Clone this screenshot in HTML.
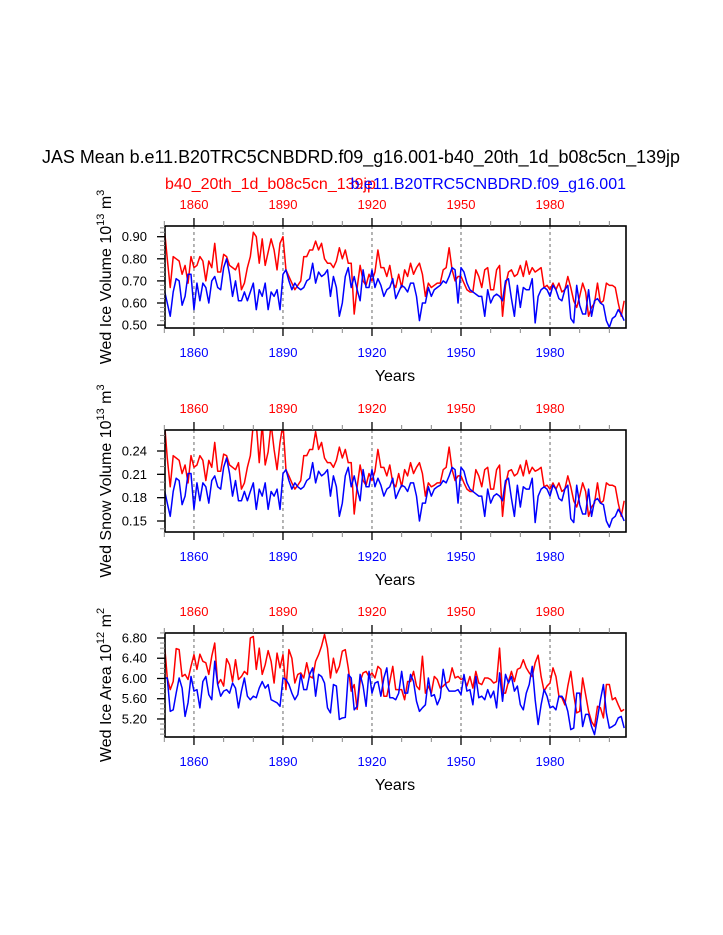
<!DOCTYPE html>
<html><head><meta charset="utf-8"><style>
html,body{margin:0;padding:0;background:#fff;}
svg{display:block;font-family:"Liberation Sans",Arial,sans-serif;}
</style></head><body>
<svg id="chart" width="723" height="935" viewBox="0 0 723 935" xmlns="http://www.w3.org/2000/svg">
<text x="361" y="163" font-size="18" text-anchor="middle" fill="#000" textLength="638" lengthAdjust="spacingAndGlyphs">JAS Mean b.e11.B20TRC5CNBDRD.f09_g16.001-b40_20th_1d_b08c5cn_139jp</text>
<text x="165" y="189" font-size="16" fill="#ff0000">b40_20th_1d_b08c5cn_139jp</text>
<text x="626" y="189" font-size="16" text-anchor="end" fill="#0000ff">b.e11.B20TRC5CNBDRD.f09_g16.001</text>
</svg>
<script>
const years = [];
for (let y = 1850; y <= 2005; y++) years.push(y);
const xTickYears = [1860, 1890, 1920, 1950, 1980];

const iceVolRed = [0.94,0.80,0.67,0.81,0.80,0.79,0.73,0.77,0.69,0.81,
0.76,0.77,0.81,0.79,0.70,0.79,0.76,0.87,0.74,0.74,
0.82,0.81,0.77,0.76,0.75,0.78,0.66,0.69,0.76,0.81,
0.92,0.90,0.78,0.89,0.77,0.83,0.89,0.84,0.75,0.87,
0.90,0.75,0.72,0.69,0.66,0.68,0.70,0.81,0.81,0.84,
0.84,0.88,0.84,0.87,0.80,0.78,0.78,0.76,0.79,0.85,
0.80,0.84,0.78,0.78,0.55,0.67,0.77,0.70,0.68,0.73,
0.70,0.74,0.84,0.76,0.76,0.72,
0.77,0.69,0.67,0.73,0.67,0.75,0.72,0.78,0.73,0.76,
0.78,0.73,0.63,0.69,0.67,0.68,0.69,0.69,0.75,0.76,
0.85,0.75,0.70,0.72,0.72,0.69,0.66,0.65,0.65,0.75,
0.72,0.67,0.75,0.76,0.66,0.66,0.75,0.77,0.54,0.68,
0.74,0.75,0.72,0.73,0.77,0.72,0.79,0.73,0.76,0.74,
0.75,0.76,0.67,0.68,0.66,0.69,0.66,0.69,0.65,0.66,
0.72,0.67,0.61,0.58,0.63,0.69,0.65,0.54,0.58,0.60,
0.69,0.60,0.61,0.69,0.68,0.68,0.67,0.60,0.54,0.61];
const iceVolBlue = [0.66,0.60,0.54,0.65,0.71,0.70,0.59,0.63,0.73,0.73,
0.57,0.69,0.61,0.69,0.67,0.60,0.70,0.72,0.67,0.66,
0.76,0.80,0.73,0.63,0.70,0.61,0.61,0.65,0.61,0.65,
0.69,0.57,0.66,0.63,0.69,0.57,0.65,0.63,0.66,0.57,
0.73,0.75,0.70,0.66,0.69,0.67,0.66,0.67,0.70,0.71,
0.78,0.69,0.74,0.72,0.73,0.75,0.63,0.72,0.67,0.54,
0.60,0.72,0.76,0.67,0.72,0.66,0.61,0.75,0.67,0.67,
0.75,0.67,0.71,0.68,0.63,0.66,
0.67,0.71,0.62,0.65,0.68,0.67,0.65,0.69,0.69,0.63,
0.52,0.60,0.60,0.67,0.63,0.66,0.67,0.68,0.70,0.69,
0.72,0.76,0.75,0.60,0.76,0.74,0.69,0.66,0.65,0.64,
0.63,0.63,0.54,0.66,0.60,0.63,0.64,0.63,0.61,0.70,
0.71,0.62,0.54,0.68,0.58,0.67,0.66,0.66,0.71,0.51,
0.63,0.66,0.67,0.66,0.63,0.68,0.66,0.62,0.61,0.66,
0.68,0.53,0.51,0.68,0.59,0.55,0.55,0.66,0.54,0.61,
0.62,0.60,0.59,0.52,0.49,0.53,0.54,0.57,0.55,0.52];

const snowRed = [0.28,0.231,0.194,0.234,0.231,0.228,0.211,0.222,0.199,0.234,
0.219,0.222,0.234,0.228,0.202,0.228,0.219,0.251,0.214,0.214,
0.236,0.234,0.222,0.219,0.216,0.225,0.191,0.199,0.219,0.234,
0.275,0.275,0.225,0.275,0.222,0.239,0.275,0.242,0.216,0.251,
0.275,0.216,0.208,0.199,0.191,0.196,0.202,0.234,0.234,0.242,
0.242,0.265,0.242,0.251,0.231,0.225,0.225,0.219,0.228,0.245,
0.231,0.242,0.225,0.225,0.159,0.194,0.222,0.202,0.196,0.211,
0.202,0.214,0.242,0.219,0.219,0.208,
0.222,0.199,0.194,0.211,0.194,0.216,0.208,0.225,0.211,0.219,
0.225,0.211,0.182,0.199,0.194,0.196,0.199,0.199,0.216,0.219,
0.245,0.216,0.202,0.208,0.208,0.199,0.191,0.188,0.188,0.216,
0.208,0.194,0.216,0.219,0.191,0.191,0.216,0.222,0.156,0.196,
0.214,0.216,0.208,0.211,0.222,0.208,0.228,0.211,0.219,0.214,
0.216,0.219,0.194,0.196,0.191,0.199,0.191,0.199,0.188,0.191,
0.208,0.194,0.176,0.168,0.182,0.199,0.188,0.156,0.168,0.173,
0.199,0.173,0.176,0.199,0.196,0.196,0.194,0.173,0.156,0.176];
const snowBlue = [0.191,0.173,0.156,0.188,0.205,0.202,0.171,0.182,0.211,0.211,
0.165,0.199,0.176,0.199,0.194,0.173,0.202,0.208,0.194,0.191,
0.219,0.231,0.211,0.182,0.202,0.176,0.176,0.188,0.176,0.188,
0.199,0.165,0.191,0.182,0.199,0.165,0.188,0.182,0.191,0.165,
0.211,0.216,0.202,0.191,0.199,0.194,0.191,0.194,0.202,0.205,
0.225,0.199,0.214,0.208,0.211,0.216,0.182,0.208,0.194,0.156,
0.173,0.208,0.219,0.194,0.208,0.191,0.176,0.216,0.194,0.194,
0.216,0.194,0.205,0.196,0.182,0.191,
0.194,0.205,0.179,0.188,0.196,0.194,0.188,0.199,0.199,0.182,
0.150,0.173,0.173,0.194,0.182,0.191,0.194,0.196,0.202,0.199,
0.208,0.219,0.216,0.173,0.219,0.214,0.199,0.191,0.188,0.185,
0.182,0.182,0.156,0.191,0.173,0.182,0.185,0.182,0.176,0.202,
0.205,0.179,0.156,0.196,0.168,0.194,0.191,0.191,0.205,0.148,
0.182,0.191,0.194,0.191,0.182,0.196,0.191,0.179,0.176,0.191,
0.196,0.153,0.148,0.196,0.171,0.159,0.159,0.191,0.156,0.176,
0.179,0.173,0.171,0.150,0.142,0.153,0.156,0.165,0.159,0.150];

const areaRed = [6.73,6.01,5.78,5.94,6.59,6.57,6.04,6.08,5.98,6.24,
6.47,6.18,6.48,6.34,6.31,6.08,6.44,6.70,5.88,5.98,
5.85,6.39,6.27,5.94,6.37,5.98,6.04,6.14,6.08,6.80,
6.83,6.18,6.60,6.08,6.27,6.55,6.34,5.91,6.50,6.21,
6.47,5.78,6.57,6.40,5.91,6.08,6.11,6.01,6.31,6.04,
6.01,6.34,6.47,6.64,6.87,6.60,6.01,6.40,6.11,6.24,
6.54,6.57,6.21,5.75,5.88,5.39,5.94,6.11,6.14,6.04,
6.11,6.01,6.24,6.18,5.65,5.65,5.94,
6.24,5.78,5.78,5.78,5.58,5.94,5.94,6.14,5.85,5.78,
6.44,5.71,5.85,5.71,6.04,5.98,5.81,5.85,5.91,5.94,
6.21,6.01,6.04,5.98,6.01,5.85,6.04,5.81,6.14,5.91,
5.88,6.01,6.01,5.98,5.91,5.94,6.60,5.71,5.71,5.94,
6.14,5.94,6.18,6.21,6.37,6.21,6.11,6.04,6.31,6.46,
6.04,5.75,5.85,5.91,6.21,6.04,5.65,5.62,5.48,5.85,
6.14,5.68,5.32,5.35,6.01,5.68,5.35,5.15,5.05,5.45,
5.42,5.22,5.88,5.88,5.58,5.62,5.48,5.35,5.39];
const areaBlue = [6.01,6.01,5.35,5.38,5.71,6.01,5.81,5.25,5.52,6.04,
5.75,5.78,5.42,5.94,6.04,5.68,5.58,6.34,5.88,5.65,
5.75,5.78,5.71,5.91,5.81,5.42,5.75,6.01,5.65,5.58,
5.65,5.62,5.81,5.94,5.81,5.88,5.58,5.55,5.52,5.45,
6.01,5.98,5.88,5.71,5.58,5.68,6.08,5.78,5.78,6.08,
6.21,5.65,6.08,6.04,5.91,5.42,5.32,5.88,5.85,5.19,
5.22,5.23,6.08,6.01,5.38,5.45,6.08,5.85,5.45,6.14,
5.71,5.91,5.94,5.65,6.01,6.21,5.62,
5.62,5.58,5.71,6.14,5.71,5.71,6.08,5.94,5.55,5.35,
5.42,5.48,6.01,5.65,5.68,5.48,5.62,6.18,5.85,5.75,
5.75,5.75,5.78,5.68,6.08,5.75,5.78,5.48,6.04,5.62,
5.65,5.58,5.78,5.62,5.75,5.42,6.11,5.55,6.08,5.91,
6.04,5.75,5.85,5.48,5.38,5.71,5.88,6.24,5.58,5.09,
5.48,5.78,5.65,5.42,5.45,5.38,5.65,5.65,5.55,5.35,
4.99,5.02,5.71,5.71,5.05,5.29,5.29,5.05,4.89,5.22,
5.58,5.88,5.32,5.02,5.05,5.09,5.22,5.25,5.02];

const iceVolTicks = ["0.50","0.60","0.70","0.80","0.90"];
const snowTicks = ["0.15","0.18","0.21","0.24"];
const areaTicks = ["5.20","5.60","6.00","6.40","6.80"];

const NS = "http://www.w3.org/2000/svg";
const svg = document.getElementById("chart");
const X0 = 165, X1 = 626;
function xScale(yr){ return 164.3 + (yr - 1850) * 2.967; }

function mk(tag, attrs, parent){
  const e = document.createElementNS(NS, tag);
  for (const k in attrs) e.setAttribute(k, attrs[k]);
  (parent || svg).appendChild(e);
  return e;
}

function panel(cfg){
  const g = mk("g", {});
  
  
  const yS = v => cfg.yRef + (cfg.vRef - v) * cfg.pxPer;
  const clipId = cfg.name + "-clip";
  const cp = mk("clipPath", {id: clipId}, g);
  mk("rect", {x: X0, y: cfg.top, width: X1 - X0, height: cfg.bottom - cfg.top}, cp);
  xTickYears.forEach(yr => {
    const l = mk("line", {x1: xScale(yr), x2: xScale(yr), y1: cfg.top, y2: cfg.bottom, stroke: "#444", "stroke-width": 0.8, "stroke-dasharray": "3,3"}, g);
    
    
  });
  [[cfg.red, "#ff0000", "red-series"], [cfg.blue, "#0000ff", "blue-series"]].forEach(([arr, col, nm]) => {
    const pts = arr.map((v, i) => xScale(years[i]).toFixed(2) + "," + yS(v).toFixed(2)).join(" ");
    const pl = mk("polyline", {points: pts, fill: "none", stroke: col, "stroke-width": 1.5, "clip-path": "url(#" + clipId + ")", "stroke-linejoin": "round"}, g);
    
    
  });
  const box = mk("rect", {x: X0, y: cfg.top, width: X1 - X0, height: cfg.bottom - cfg.top, fill: "none", stroke: "#000", "stroke-width": 1.6}, g);
  
  
  for (let yr = 1850; yr <= 2000; yr += 10) {
    const major = xTickYears.includes(yr);
    const len = major ? 8 : 5;
    const col = major ? "#000" : "#888";
    const x = xScale(yr);
    mk("line", {x1: x, x2: x, y1: cfg.top, y2: cfg.top - len, stroke: col, "stroke-width": major ? 1.3 : 1}, g);
    mk("line", {x1: x, x2: x, y1: cfg.bottom, y2: cfg.bottom + len, stroke: col, "stroke-width": major ? 1.3 : 1}, g);
  }
  xTickYears.forEach(yr => {
    const t = mk("text", {x: xScale(yr), y: cfg.top - 17, "font-size": 13, "text-anchor": "middle", fill: "#ff0000"}, g);
    t.textContent = yr;
    
    
    const b = mk("text", {x: xScale(yr), y: cfg.bottom + 29, "font-size": 13, "text-anchor": "middle", fill: "#0000ff"}, g);
    b.textContent = yr;
    
    
  });
  for (let v = cfg.minStart; v <= cfg.vMax + 1e-9; v += cfg.minorStep) {
    const y = yS(v);
    if (y < cfg.top - 0.5 || y > cfg.bottom + 0.5) continue;
    mk("line", {x1: X0, x2: X0 - 5, y1: y, y2: y, stroke: "#888", "stroke-width": 1}, g);
  }
  cfg.ticks.forEach(lbl => {
    const y = yS(parseFloat(lbl));
    mk("line", {x1: X0, x2: X0 - 8, y1: y, y2: y, stroke: "#000", "stroke-width": 1.3}, g);
    const t = mk("text", {x: X0 - 18, y: y + 4.5, "font-size": 13, "text-anchor": "end", fill: "#000"}, g);
    t.textContent = lbl;
    
    
  });
  const xt = mk("text", {x: 395, y: cfg.bottom + 53, "font-size": 16, "text-anchor": "middle", fill: "#000"}, g);
  xt.textContent = "Years";
  
  
  const cy = (cfg.top + cfg.bottom) / 2;
  const yt = mk("text", {x: 0, y: 0, "font-size": 16, "text-anchor": "middle", fill: "#000", transform: "translate(111," + cy + ") rotate(-90)"}, g);
  
  
  const parts = [[cfg.label + " 10", 0], [cfg.exp, 1], [" m", 0], [cfg.unitExp, 1]];
  parts.forEach(([s, sup]) => {
    const ts = mk("tspan", sup ? {"font-size": 11, dy: -7} : {"font-size": 16, dy: 7}, yt);
    ts.textContent = s;
  });
  yt.firstChild.setAttribute("dy", 0);
}

panel({name: "ice-volume", top: 226, bottom: 328, yRef: 236.7, vRef: 0.90, pxPer: 221, vMax: 0.96, minStart: 0.48, minorStep: 0.02,
  red: iceVolRed, blue: iceVolBlue, ticks: iceVolTicks, label: "Wed Ice Volume", exp: "13", unitExp: "3"});
panel({name: "snow-volume", top: 430, bottom: 532, yRef: 451, vRef: 0.24, pxPer: 777.8, vMax: 0.27, minStart: 0.13, minorStep: 0.01,
  red: snowRed, blue: snowBlue, ticks: snowTicks, label: "Wed Snow Volume", exp: "13", unitExp: "3"});
panel({name: "ice-area", top: 633, bottom: 737, yRef: 638, vRef: 6.80, pxPer: 50.6, vMax: 6.9, minStart: 4.9, minorStep: 0.1,
  red: areaRed, blue: areaBlue, ticks: areaTicks, label: "Wed Ice Area", exp: "12", unitExp: "2"});
</script>
</body></html>
